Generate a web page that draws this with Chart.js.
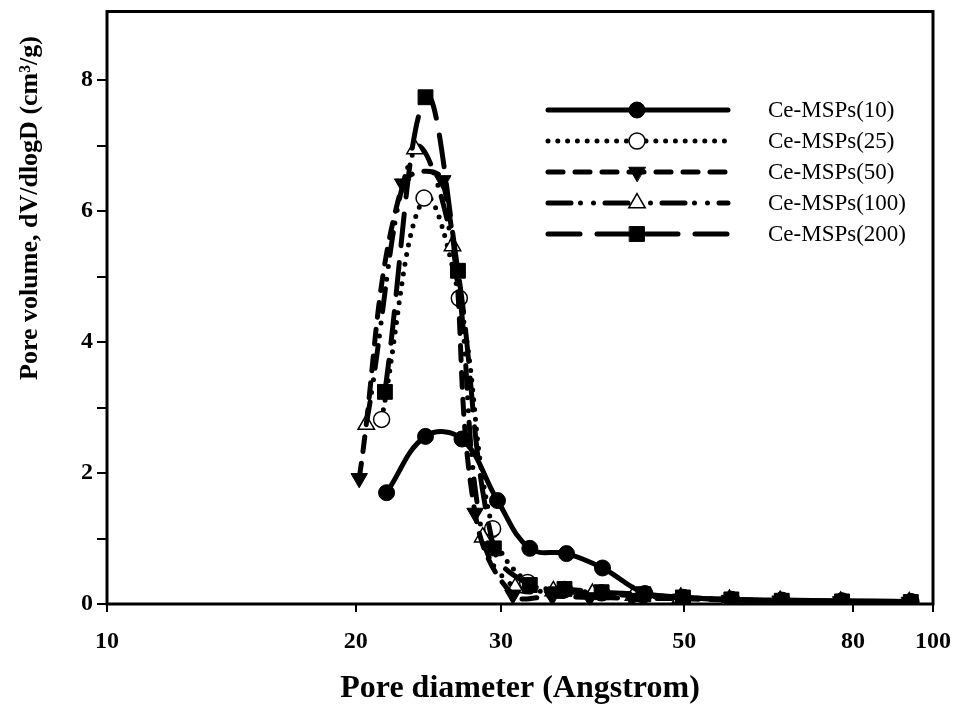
<!DOCTYPE html>
<html>
<head>
<meta charset="utf-8">
<script src="https://cdn.jsdelivr.net/npm/chart.js@4.4.1/dist/chart.umd.min.js"></script>
<style>
  html, body { margin: 0; padding: 0; background: #fff; }
  #wrap { width: 957px; height: 715px; }
</style>
</head>
<body>
<div id="wrap"><canvas id="myChart"></canvas></div>
<script>
// pore size distributions, diameter in Angstrom vs dV/dlogD
const seriesNames = ['Ce-MSPs(10)', 'Ce-MSPs(25)', 'Ce-MSPs(50)', 'Ce-MSPs(100)', 'Ce-MSPs(200)'];

const diam10 = [21.8, 24.3, 26.9, 29.7, 32.5, 36.0, 39.8, 44.8, 49.8, 57.0, 65.6, 77.6, 94.0];
const vol10  = [1.70, 2.56, 2.52, 1.58, 0.85, 0.77, 0.55, 0.16, 0.10, 0.07, 0.06, 0.05, 0.04];

const diam25 = [21.5, 24.2, 26.7, 29.3, 32.3, 35.8, 39.7, 44.6, 49.8, 57.0, 65.6, 77.6, 94.0];
const vol25  = [2.82, 6.20, 4.67, 1.15, 0.33, 0.22, 0.17, 0.14, 0.10, 0.07, 0.05, 0.04, 0.03];

const diam50 = [20.2, 22.8, 25.5, 27.9, 31.0, 34.6, 38.4, 43.2, 49.5, 56.7, 65.3, 77.3, 93.6];
const vol50  = [1.92, 6.42, 6.47, 1.39, 0.14, 0.12, 0.10, 0.09, 0.08, 0.06, 0.05, 0.04, 0.03];

const diam100 = [20.6, 23.6, 26.2, 28.5, 31.2, 34.7, 38.7, 43.4, 49.5, 56.7, 65.3, 77.3, 93.6];
const vol100  = [2.74, 6.95, 5.47, 1.02, 0.25, 0.20, 0.16, 0.13, 0.10, 0.07, 0.05, 0.04, 0.03];

const diam200 = [21.7, 24.3, 26.6, 29.4, 32.5, 35.8, 39.7, 44.6, 49.8, 57.0, 65.6, 77.6, 94.0];
const vol200  = [3.24, 7.74, 5.09, 0.85, 0.29, 0.23, 0.18, 0.15, 0.10, 0.07, 0.05, 0.04, 0.03];

const xTicks = [10, 20, 30, 50, 80, 100];
const yTicks = [0, 1, 2, 3, 4, 5, 6, 7, 8];

const serif = "'Liberation Serif', 'Times New Roman', serif";

function pts(xs, ys) {
  return xs.map((x, i) => ({ x: x, y: ys[i] }));
}

function series(label, xs, ys, style) {
  return Object.assign({
    label: label,
    data: pts(xs, ys),
    borderColor: '#000',
    borderWidth: 5,
    borderCapStyle: 'round',
    borderJoinStyle: 'round',
    tension: 0.4,
    pointBorderColor: '#000',
    pointBorderWidth: 1,
    pointBackgroundColor: '#000',
    fill: false
  }, style);
}

const datasets = [
  series(seriesNames[0], diam10, vol10, { pointStyle: 'circle', pointRadius: 8, order: 1 }),
  series(seriesNames[1], diam25, vol25, { borderDash: [0, 9.8], pointStyle: 'circle', pointRadius: 8,
    pointBackgroundColor: '#fff', pointBorderWidth: 1.5, order: 4 }),
  series(seriesNames[2], diam50, vol50, { borderDash: [15, 12], pointStyle: 'triangle', pointRotation: 180,
    pointRadius: 9.5, order: 2 }),
  series(seriesNames[3], diam100, vol100, { borderDash: [23, 9.5, 0, 13, 0, 11.5], pointStyle: 'triangle',
    pointRadius: 9.5, pointBackgroundColor: '#fff', pointBorderWidth: 1.5, order: 3 }),
  series(seriesNames[4], diam200, vol200, { borderDash: [32, 17], pointStyle: 'rect', pointRadius: 10.5, order: 0 })
];

// keep the plot box where the layout padding puts it
function noPad(s) {
  s.paddingTop = 0;
  s.paddingBottom = 0;
  s.paddingLeft = 0;
  s.paddingRight = 0;
}

// box round the plot, axis titles and the legend block
const decorations = {
  id: 'decorations',
  beforeDatasetsDraw(chart) {
    const a = chart.chartArea, ctx = chart.ctx;
    ctx.save();
    ctx.strokeStyle = '#000';
    ctx.lineWidth = 3;
    ctx.strokeRect(a.left, a.top, a.right - a.left, a.bottom - a.top);
    ctx.restore();
  },
  afterDraw(chart) {
    const a = chart.chartArea, ctx = chart.ctx;
    ctx.save();
    ctx.fillStyle = '#000';
    ctx.textAlign = 'center';
    ctx.textBaseline = 'middle';
    ctx.font = 'bold 32px ' + serif;
    ctx.fillText('Pore diameter (Angstrom)', (a.left + a.right) / 2, 689);
    ctx.translate(30, 208);
    ctx.rotate(-Math.PI / 2);
    ctx.font = 'bold 26px ' + serif;
    ctx.fillText('Pore volume, dV/dlogD (cm\u00B3/g)', 0, 0);
    ctx.restore();

    ctx.save();
    chart.data.datasets.forEach((ds, i) => {
      const y = 110 + i * 31;
      ctx.beginPath();
      ctx.setLineDash(ds.borderDash || []);
      ctx.lineCap = 'round';
      ctx.lineWidth = ds.borderWidth;
      ctx.strokeStyle = '#000';
      ctx.moveTo(548, y);
      ctx.lineTo(728, y);
      ctx.stroke();
      ctx.setLineDash([]);
      ctx.fillStyle = ds.pointBackgroundColor;
      ctx.lineWidth = ds.pointBorderWidth;
      Chart.helpers.drawPoint(ctx, {
        pointStyle: ds.pointStyle,
        rotation: ds.pointRotation || 0,
        radius: ds.pointRadius,
        borderWidth: ds.pointBorderWidth
      }, 637, y);
      ctx.fillStyle = '#000';
      ctx.font = '23px ' + serif;
      ctx.textAlign = 'left';
      ctx.textBaseline = 'middle';
      ctx.fillText(ds.label, 768, y + 1);
    });
    ctx.restore();
  }
};

new Chart(document.getElementById('myChart'), {
  type: 'line',
  data: { datasets: datasets },
  plugins: [decorations],
  options: {
    responsive: true,
    maintainAspectRatio: false,
    animation: false,
    layout: { padding: { top: 7, right: 24, left: 0, bottom: 0 } },
    plugins: { legend: { display: false }, tooltip: { enabled: false } },
    scales: {
      x: {
        type: 'logarithmic',
        min: 10,
        max: 100,
        afterBuildTicks: s => { s.ticks = xTicks.map(v => ({ value: v })); },
        afterFit: s => { s.height = 111; noPad(s); },
        border: { display: false },
        grid: { drawOnChartArea: false, drawTicks: true, tickLength: 8, color: '#000', lineWidth: 2 },
        ticks: {
          autoSkip: false, maxRotation: 0, padding: 15, color: '#000',
          font: { family: serif, size: 24, weight: 'bold' },
          callback: v => String(v)
        }
      },
      y: {
        min: 0,
        max: 9.05,
        afterBuildTicks: s => { s.ticks = yTicks.map(v => ({ value: v })); },
        afterFit: s => { s.width = 107; noPad(s); },
        border: { display: false },
        grid: { drawOnChartArea: false, drawTicks: true, tickLength: 10, color: '#000', lineWidth: 2 },
        ticks: {
          autoSkip: false, padding: 4, color: '#000',
          font: { family: serif, size: 24, weight: 'bold' },
          callback: v => (v % 2 === 0 ? String(v) : '')
        }
      }
    }
  }
});
</script>
</body>
</html>
